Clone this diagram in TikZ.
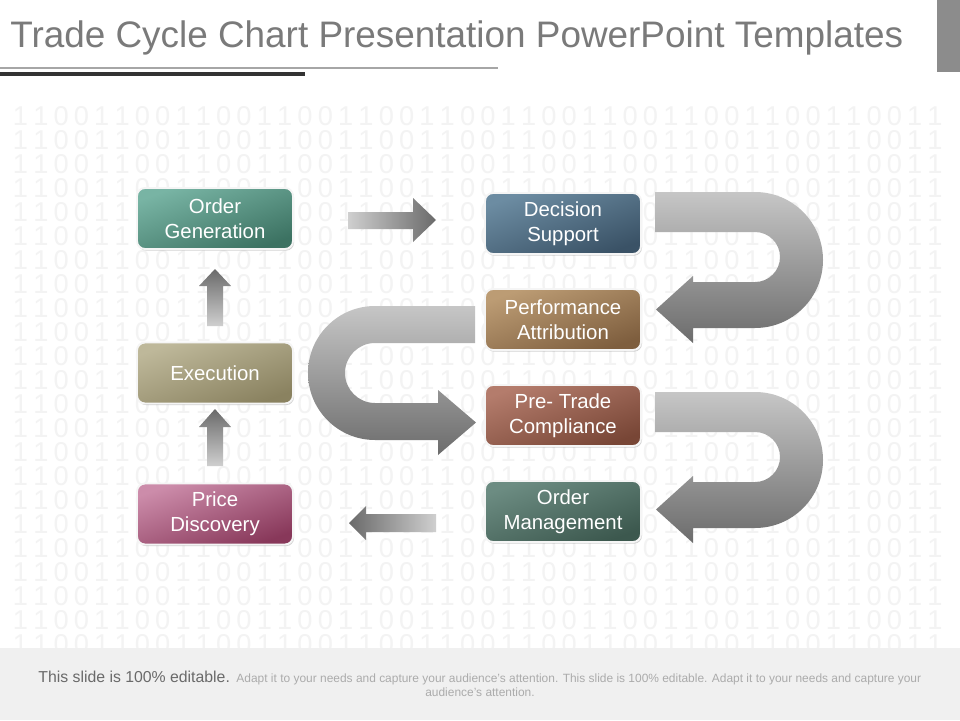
\documentclass[tikz,border=0pt]{standalone}
\usepackage{fontspec}
\setmainfont{Liberation Sans}
\usetikzlibrary{shadows}
\definecolor{titlegray}{HTML}{7A7A7A}
\definecolor{digitgray}{HTML}{F3F3F3}
\definecolor{footbg}{HTML}{F0F0F0}
\definecolor{foottxt}{HTML}{6A6A6A}
\definecolor{footsmall}{HTML}{ABABAB}
\definecolor{arrowlight}{HTML}{CFCFCF}
\definecolor{arrowdark}{HTML}{6A6A6A}
\definecolor{ulight}{HTML}{C6C6C6}
\definecolor{udark}{HTML}{6C6C6C}
\definecolor{ogA}{HTML}{78B4A4}\definecolor{ogB}{HTML}{3C7262}
\definecolor{exA}{HTML}{BEB89A}\definecolor{exB}{HTML}{8A8260}
\definecolor{pdA}{HTML}{CC8CAA}\definecolor{pdB}{HTML}{88385A}
\definecolor{dsA}{HTML}{6C8CA2}\definecolor{dsB}{HTML}{3A5266}
\definecolor{paA}{HTML}{BC9C74}\definecolor{paB}{HTML}{7E5E3E}
\definecolor{ptA}{HTML}{B47C6C}\definecolor{ptB}{HTML}{784636}
\definecolor{omA}{HTML}{6C8C82}\definecolor{omB}{HTML}{3C584E}
\newcommand{\dgt}[1]{\makebox[11.57pt]{#1}}
\newcommand{\dgrow}{\dgt{1}\dgt{1}\dgt{0}\dgt{0}\dgt{1}\dgt{1}\dgt{0}\dgt{0}\dgt{1}\dgt{1}\dgt{0}\dgt{0}%
\dgt{1}\dgt{1}\dgt{0}\dgt{0}\dgt{1}\dgt{1}\dgt{0}\dgt{0}\dgt{1}\dgt{1}\dgt{0}\dgt{0}%
\dgt{1}\dgt{1}\dgt{0}\dgt{0}\dgt{1}\dgt{1}\dgt{0}\dgt{0}\dgt{1}\dgt{1}\dgt{0}\dgt{0}%
\dgt{1}\dgt{1}\dgt{0}\dgt{0}\dgt{1}\dgt{1}\dgt{0}\dgt{0}\dgt{1}\dgt{1}}
\begin{document}
\begin{tikzpicture}[x=0.02cm,y=-0.02cm,
  stepbox/.style={rounded corners=4.5pt, draw=white!92!gray, line width=1.1pt,
    minimum width=3.12cm, minimum height=1.22cm, inner sep=2pt, align=center,
    text=white, font=\fontsize{11.6pt}{14.2pt}\selectfont,
    drop shadow={shadow xshift=0.6pt, shadow yshift=-0.9pt, opacity=0.35}},
  digitrow/.style={anchor=base west, inner sep=0pt, text=digitgray,
    font=\fontsize{15.5pt}{16pt}\selectfont},
  blockh/.style={left color=arrowlight, right color=arrowdark},
  blockhl/.style={left color=arrowdark, right color=arrowlight},
  blockv/.style={top color=arrowdark, bottom color=arrowlight},
  ushape/.style={top color=ulight, bottom color=udark}]
\useasboundingbox (0,0) rectangle (960,720);
\fill[white] (0,0) rectangle (960,720);
% background digits
\foreach \r in {0,...,22}{
  \node[digitrow] (row\r) at (10,{125+24*\r}) {\dgrow};
}
% footer band
\fill[footbg] (0,648) rectangle (960,720);
% title
\node[anchor=base west, inner sep=0pt, text=titlegray, font=\fontsize{21pt}{24pt}\selectfont] (title) at (10,47)
  {Trade Cycle Chart Presentation PowerPoint Templates};
\fill[gray!70] (0,67) rectangle (498,69);
\fill[black!80] (0,71.5) rectangle (305,75.5);
\fill[black!45] (937,0) rectangle (960,72);
% boxes
\node[stepbox, top color=ogA, bottom color=ogB, shading angle=20] (og) at (215,218.5) {Order\\Generation};
\node[stepbox, top color=exA, bottom color=exB, shading angle=20] (ex) at (215,373) {Execution};
\node[stepbox, top color=pdA, bottom color=pdB, shading angle=20] (pd) at (215,514) {Price\\Discovery};
\node[stepbox, top color=dsA, bottom color=dsB, shading angle=20] (ds) at (563,223.5) {Decision\\Support};
\node[stepbox, top color=paA, bottom color=paB, shading angle=20] (pa) at (563,319.5) {Performance\\Attribution};
\node[stepbox, top color=ptA, bottom color=ptB, shading angle=20] (pt) at (563,415.5) {Pre- Trade\\Compliance};
\node[stepbox, top color=omA, bottom color=omB, shading angle=20] (om) at (563,511.5) {Order\\Management};
% straight block arrows
\path[blockh] (348,212) -- (413,212) -- (413,198) -- (436,220) -- (413,242) -- (413,229) -- (348,229) -- cycle;
\path[blockv] (207,326) -- (207,286) -- (199,286) -- (215,269) -- (231,286) -- (223,286) -- (223,326) -- cycle;
\path[blockv] (207,466) -- (207,427) -- (199,427) -- (215,409) -- (231,427) -- (223,427) -- (223,466) -- cycle;
\path[blockhl] (436,514) -- (366,514) -- (366,506) -- (349,523) -- (366,540) -- (366,532) -- (436,532) -- cycle;
% U arrow 1 (ds -> pa)
\path[ushape] (655,192) -- (755,192) .. controls (792.6,192) and (823,222.4) .. (823,260)
  .. controls (823,297.6) and (792.6,328) .. (755,328) -- (693,328) -- (693,343) -- (656,309.5)
  -- (693,276) -- (693,282) -- (755,282) .. controls (768.8,282) and (780,270.8) .. (780,257)
  .. controls (780,243.2) and (768.8,232) .. (755,232) -- (655,232) -- cycle;
% U arrow 2 (pt -> om)
\path[ushape] (655,392) -- (755,392) .. controls (792.6,392) and (823,422.4) .. (823,460)
  .. controls (823,497.6) and (792.6,528) .. (755,528) -- (693,528) -- (693,543) -- (656,509.5)
  -- (693,476) -- (693,482) -- (755,482) .. controls (768.8,482) and (780,470.8) .. (780,457)
  .. controls (780,443.2) and (768.8,432) .. (755,432) -- (655,432) -- cycle;
% left U arrow (pa -> pt)
\path[ushape] (475,306) -- (375,306) .. controls (338,306) and (308,336) .. (308,373)
  .. controls (308,410) and (338,440) .. (375,440) -- (438,440) -- (438,455) -- (476,422.5)
  -- (438,390) -- (438,403) -- (375,403) .. controls (358.4,403) and (345,389.6) .. (345,373)
  .. controls (345,356.4) and (358.4,343) .. (375,343) -- (475,343) -- cycle;
% footer text
\node[anchor=base west, inner sep=0pt] (foot1) at (38,682)
  {{\fontsize{9pt}{10pt}\selectfont\color{foottxt}This slide is 100\% editable.} {\fontsize{6.8pt}{7.5pt}\selectfont\color{footsmall}Adapt it to your needs and capture your audience's attention. This slide is 100\% editable. Adapt it to your needs and capture your}};
\node[anchor=base, inner sep=0pt, text=footsmall, font=\fontsize{6.8pt}{7.5pt}\selectfont] (foot2) at (480,696) {audience's attention.};
\end{tikzpicture}
\end{document}
